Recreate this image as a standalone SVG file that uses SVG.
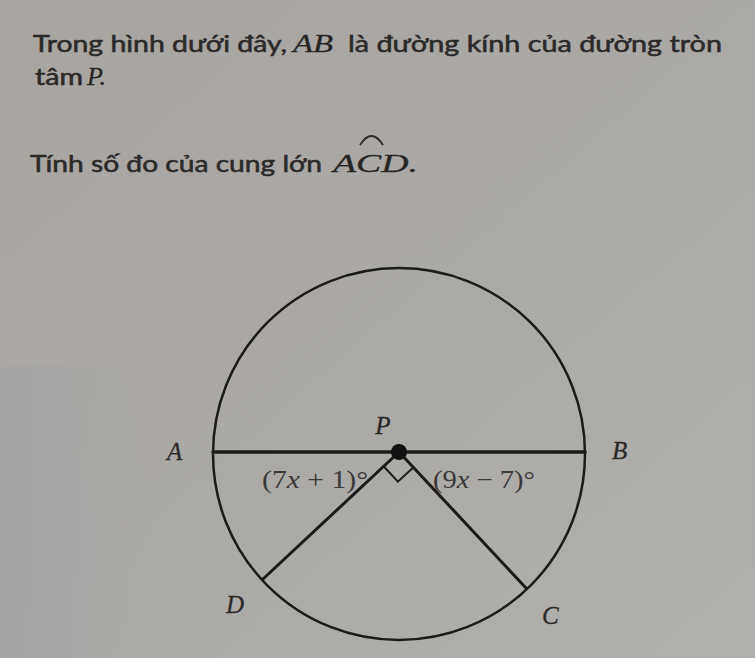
<svg xmlns="http://www.w3.org/2000/svg" width="755" height="658" viewBox="0 0 755 658">
  <defs>
    <linearGradient id="bg" x1="0" y1="0" x2="1" y2="1">
      <stop offset="0" stop-color="#a8a5a1"/>
      <stop offset="0.5" stop-color="#aba9a6"/>
      <stop offset="1" stop-color="#b2b0ad"/>
    </linearGradient>
    <linearGradient id="shade" x1="0" y1="0" x2="1" y2="0">
      <stop offset="0" stop-color="#a2a3a4" stop-opacity="0.9"/>
      <stop offset="0.35" stop-color="#a6a6a5" stop-opacity="0.5"/>
      <stop offset="0.6" stop-color="#a8a8a6" stop-opacity="0"/>
    </linearGradient>
    <style>
      .txt { font-family: Lato, "Noto Sans", sans-serif; font-size: 23px; fill: #2b2a29; stroke: #2b2a29; stroke-width: 0.55px; }
      .m { font-family: "Liberation Serif", "DejaVu Serif", serif; font-style: italic; fill: #262524; stroke: #262524; stroke-width: 0.3px; }
      .lbl { font-family: "Liberation Serif", "DejaVu Serif", serif; font-style: italic; font-size: 25px; fill: #2a2928; stroke: #2a2928; stroke-width: 0.3px; }
      .ang { font-family: "Liberation Serif", "DejaVu Serif", serif; font-size: 25px; fill: #3a3938; }
      .ln { stroke: #1c1b1a; fill: none; stroke-linecap: round; }
    </style>
  </defs>
  <rect width="755" height="658" fill="url(#bg)"/>
  <path d="M0 367 L200 362 L260 658 L0 658 Z" fill="url(#shade)"/>

  <g id="question">
    <text class="txt" x="33" y="52" textLength="254" lengthAdjust="spacingAndGlyphs">Trong hình dưới đây,</text>
    <text class="m" x="293" y="52" font-size="26" textLength="40" lengthAdjust="spacingAndGlyphs">AB</text>
    <text class="txt" x="348" y="52" textLength="374" lengthAdjust="spacingAndGlyphs">là đường kính của đường tròn</text>
    <text class="txt" x="35" y="85" textLength="48" lengthAdjust="spacingAndGlyphs">tâm</text>
    <text class="m" x="87" y="85" font-size="26">P.</text>
    <text class="txt" x="30" y="172" textLength="292" lengthAdjust="spacingAndGlyphs">Tính số đo của cung lớn</text>
    <text class="m" x="333" y="172" font-size="26" textLength="85" lengthAdjust="spacingAndGlyphs">ACD.</text>
    <path d="M360 145 Q371.5 127 383 145" stroke="#2a2928" stroke-width="1.8" fill="none"/>
  </g>

  <g id="circle">
    <circle class="ln" cx="399" cy="454" r="186" stroke-width="2.5"/>
  </g>

  <g id="connectors">
    <line class="ln" x1="213" y1="452" x2="585" y2="452" stroke-width="3.5"/>
    <line class="ln" x1="399" y1="452" x2="263" y2="579" stroke-width="3"/>
    <line class="ln" x1="399" y1="452" x2="526" y2="588" stroke-width="3"/>
    <polyline class="ln" points="383.6,466.3 397.9,481.7 413.3,467.4" stroke-width="2" stroke-linecap="butt"/>
  </g>

  <g id="P">
    <circle cx="399" cy="452" r="8" fill="#111"/>
    <text class="lbl" x="383" y="434" text-anchor="middle">P</text>
  </g>
  <g id="A"><text class="lbl" x="167" y="460">A</text></g>
  <g id="B"><text class="lbl" x="612" y="459">B</text></g>
  <g id="D"><text class="lbl" x="226" y="613">D</text></g>
  <g id="C"><text class="lbl" x="542" y="624">C</text></g>

  <g id="angle-labels">
    <text class="ang" x="262" y="488" textLength="106" lengthAdjust="spacingAndGlyphs">(7<tspan font-style="italic">x</tspan> + 1)°</text>
    <text class="ang" x="433" y="488" textLength="102" lengthAdjust="spacingAndGlyphs">(9<tspan font-style="italic">x</tspan> − 7)°</text>
  </g>
</svg>
